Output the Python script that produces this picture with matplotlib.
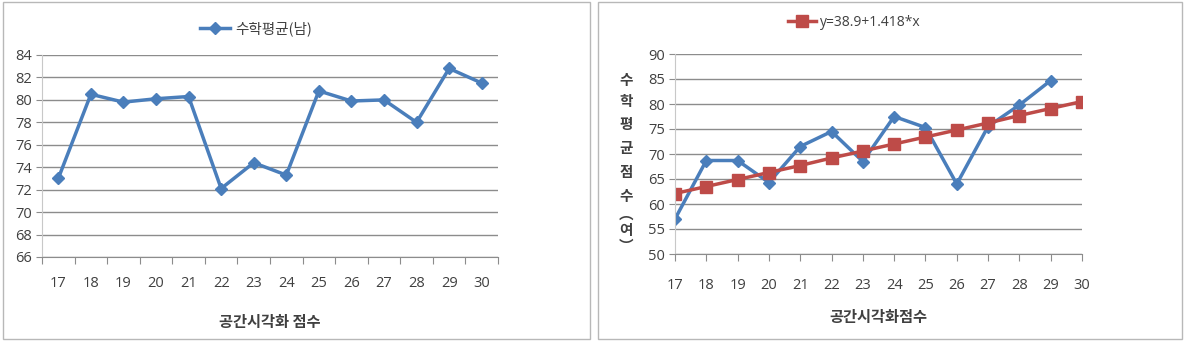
import matplotlib
matplotlib.use("Agg")
import matplotlib.pyplot as plt
from matplotlib.patches import Rectangle

plt.rcParams['font.family'] = ['Noto Sans CJK KR', 'DejaVu Sans']

scores = [17, 18, 19, 20, 21, 22, 23, 24, 25, 26, 27, 28, 29, 30]
male_math = [73.0, 80.5, 79.8, 80.1, 80.3, 72.1, 74.4, 73.3, 80.8, 79.9, 80.0, 78.0, 82.8, 81.5]
female_math = [57.0, 68.7, 68.7, 64.3, 71.5, 74.5, 68.5, 77.5, 75.3, 64.0, 75.5, 79.8, 84.7, None]
fit_line = [62.1, 63.5, 64.9, 66.3, 67.7, 69.2, 70.6, 72.0, 73.4, 74.8, 76.2, 77.7, 79.1, 80.5]
ylabel_chars = ['수', '학', '평', '균', '점', '수', '︵', '여', '︶']

blue = '#4a7ebb'
red = '#be4b48'
grid_c = '#8c8c8c'
txt_c = '#404040'
num_font = ['Open Sans', 'DejaVu Sans']

fig = plt.figure(figsize=(11.93, 3.41), dpi=100)

# panel frames
fig.patches.append(Rectangle((3/1193, 2/341), 587/1193, 337/341, transform=fig.transFigure,
                             fill=False, edgecolor='#b8b8b8', lw=1))
fig.patches.append(Rectangle((598/1193, 2/341), 584/1193, 337/341, transform=fig.transFigure,
                             fill=False, edgecolor='#b8b8b8', lw=1))

# ---- left chart
ax1 = fig.add_axes([42/1193, 1-257/341, 456/1193, 202/341])
idx = list(range(len(scores)))
ax1.plot(idx, male_math, color=blue, lw=2.5, marker='D', ms=6, label='수학평균(남)')
ax1.set_xlim(-0.5, len(scores)-0.5)
ax1.set_ylim(66, 84)
ax1.set_yticks(range(66, 85, 2))
ax1.set_xticks([i-0.5 for i in range(len(scores)+1)])
ax1.set_xticklabels([])
ax1.set_xticks(idx, minor=True)
ax1.set_xticklabels([str(s) for s in scores], minor=True)
ax1.tick_params(axis='x', which='major', length=5, color=grid_c, direction='out')
ax1.tick_params(axis='x', which='minor', length=0, pad=14, labelsize=10.5, labelcolor=txt_c)
ax1.tick_params(axis='y', length=4, color=grid_c, labelsize=10.5, labelcolor=txt_c, pad=3)
for lab in ax1.get_xticklabels(minor=True) + ax1.get_yticklabels():
    lab.set_family(num_font)
ax1.grid(axis='y', color=grid_c, lw=1)
ax1.set_axisbelow(True)
for s in ['top', 'right']:
    ax1.spines[s].set_visible(False)
ax1.spines['left'].set_color('#c8c8c8')
ax1.spines['bottom'].set_color(grid_c)
ax1.set_xlabel('공간시각화 점수', fontsize=11, fontweight='bold', color=txt_c, labelpad=16)
ax1.legend(loc='lower center', bbox_to_anchor=(0.47, 1.03), frameon=False, fontsize=10.5,
           handlelength=2, labelcolor=txt_c, handletextpad=0.4)

# ---- right chart
ax2 = fig.add_axes([675/1193, 1-254/341, 407/1193, 200/341])
ax2.plot(scores, female_math, color=blue, lw=2.5, marker='D', ms=6)
ax2.plot(scores, fit_line, color=red, lw=2.5, marker='s', ms=8, label='y=38.9+1.418*x')
ax2.set_xlim(17, 30)
ax2.set_ylim(50, 90)
ax2.set_xticks(scores)
ax2.set_yticks(range(50, 91, 5))
ax2.tick_params(axis='x', length=5, color=grid_c, pad=12, labelsize=10.5, labelcolor=txt_c)
ax2.tick_params(axis='y', length=4, color=grid_c, labelsize=10.5, labelcolor=txt_c, pad=3)
for lab in ax2.get_xticklabels() + ax2.get_yticklabels():
    lab.set_family(num_font)
ax2.grid(axis='y', color=grid_c, lw=1)
ax2.set_axisbelow(True)
for s in ['top', 'right']:
    ax2.spines[s].set_visible(False)
ax2.spines['left'].set_color('#c8c8c8')
ax2.spines['bottom'].set_color(grid_c)
ax2.set_xlabel('공간시각화점수', fontsize=11, fontweight='bold', color=txt_c, labelpad=12)
leg = ax2.legend(loc='lower center', bbox_to_anchor=(0.44, 1.06), frameon=False, fontsize=10,
                 handlelength=2, labelcolor=txt_c, handletextpad=0.3)
for t in leg.get_texts():
    t.set_family(num_font)

# stacked vertical y label
label_y = [80, 101, 124, 148, 172, 196, 214, 230, 246]
for ch, py in zip(ylabel_chars, label_y):
    fig.text(626/1193, 1-py/341, ch, ha='center', va='center',
             fontsize=10.5, fontweight='bold', color=txt_c)

fig.savefig('out.png', dpi=100)
